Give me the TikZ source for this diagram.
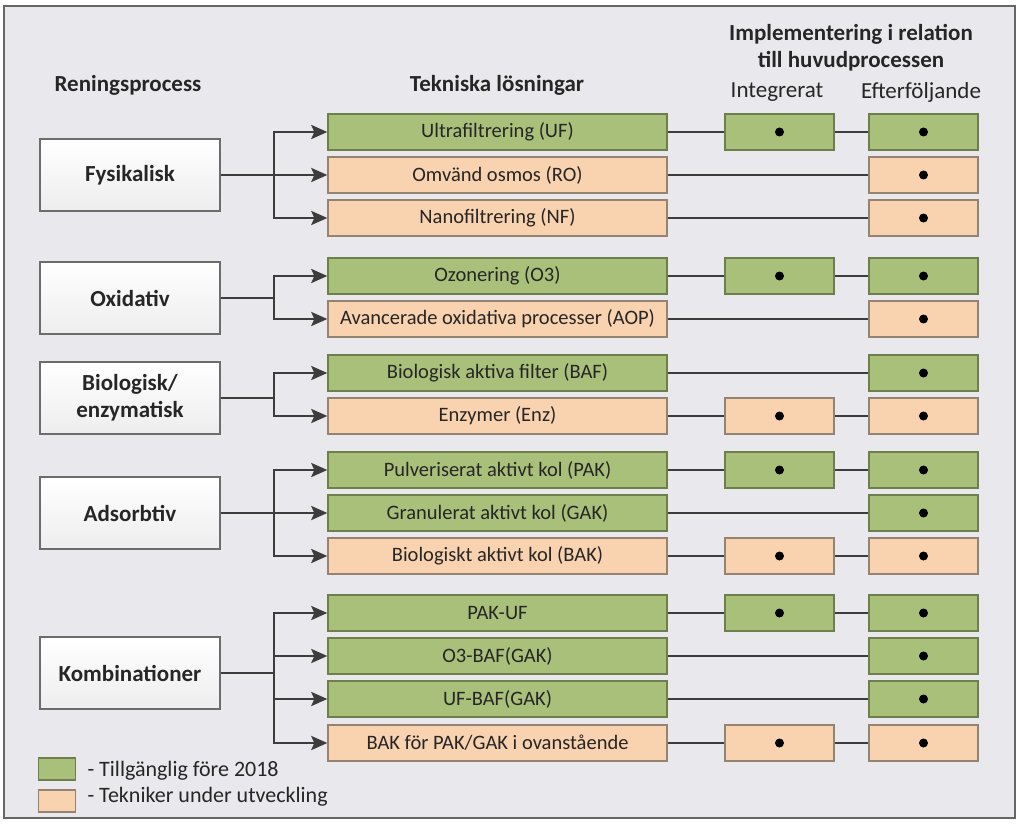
\documentclass[tikz,border=0pt]{standalone}
\usepackage{fontspec}
\setmainfont{Carlito}
\usetikzlibrary{arrows.meta}
\definecolor{grnfill}{HTML}{A9C07A}
\definecolor{grnline}{HTML}{6E7F4B}
\definecolor{orgfill}{HTML}{F9D2B0}
\definecolor{orgline}{HTML}{958372}
\definecolor{panel}{HTML}{E9E9ED}
\definecolor{wire}{HTML}{3C3C3C}
\definecolor{txt}{HTML}{262626}
\tikzset{
  grn/.style={fill=grnfill,draw=grnline},
  org/.style={fill=orgfill,draw=orgline},
  techbox/.style={line width=1.4pt,minimum width=339pt,minimum height=36pt,inner sep=0pt,font=\fontsize{20.5}{24}\selectfont,text=txt},
  implbox/.style={line width=1.4pt,minimum width=109pt,minimum height=36pt,inner sep=0pt},
  procbox/.style={draw=gray!85!black,line width=1.4pt,top color=white,bottom color=white!93!black,minimum width=180pt,minimum height=72pt,align=center,font=\bfseries\fontsize{23}{27}\selectfont,text=txt},
  hdr/.style={font=\bfseries\fontsize{23}{27}\selectfont,text=txt,align=center},
  subhdr/.style={font=\fontsize{23}{27}\selectfont,text=txt},
  wireline/.style={draw=wire,line width=2.5pt},
  thinwire/.style={draw=wire,line width=2pt},
  arr/.style={wireline,-{Stealth[length=16pt,width=14pt,inset=3pt]}},
  dot/.style={circle,fill=black,inner sep=0pt,minimum size=9pt},
  legtxt/.style={font=\fontsize{22}{26}\selectfont,text=txt,anchor=west}
}
\begin{document}
\begin{tikzpicture}[x=1pt,y=-1pt]
\useasboundingbox (0,0) rectangle (1024,829);
\fill[white] (0,0) rectangle (1024,829);
\draw[fill=panel,draw=gray!80!black,line width=1.2pt] (4,6) rectangle (1015,818);

% headers
\node[hdr] (h1) at (128,85) {Reningsprocess};
\node[hdr] (h2) at (497,85) {Tekniska lösningar};
\node[hdr] (h3) at (851,48) {Implementering i relation\\till huvudprocessen};
\node[subhdr] (h4) at (777,92) {Integrerat};
\node[subhdr] (h5) at (921,92) {Efterföljande};

% process boxes
\node[procbox] (fys) at (130,175) {Fysikalisk};
\node[procbox] (oxi) at (130,298) {Oxidativ};
\node[procbox] (bio) at (130,398) {Biologisk/\\enzymatisk};
\node[procbox] (ads) at (130,513) {Adsorbtiv};
\node[procbox] (kom) at (130,673) {Kombinationer};

\coordinate (busx) at (274,0);

% technique rows
\foreach \id/\y/\c/\t/\i in {
  uf/132/grn/{Ultrafiltrering (UF)}/1,
  ro/175/org/{Omvänd osmos (RO)}/0,
  nf/218/org/{Nanofiltrering (NF)}/0,
  oz/276/grn/{Ozonering (O3)}/1,
  aop/319/org/{Avancerade oxidativa processer (AOP)}/0,
  baf/373/grn/{Biologisk aktiva filter (BAF)}/0,
  enz/416/org/{Enzymer (Enz)}/1,
  pak/470/grn/{Pulveriserat aktivt kol (PAK)}/1,
  gak/513/grn/{Granulerat aktivt kol (GAK)}/0,
  bak/556/org/{Biologiskt aktivt kol (BAK)}/1,
  pakuf/613/grn/{PAK-UF}/1,
  obaf/656/grn/{O3-BAF(GAK)}/0,
  ufbaf/699/grn/{UF-BAF(GAK)}/0,
  bakf/743/org/{BAK för PAK/GAK i ovanstående}/1}{
  \node[techbox,\c] (\id) at (497.5,\y) {\t};
  \node[implbox,\c] (\id e) at (923.5,\y) {};
  \node[dot] (\id ed) at (\id e.center) {};
  \ifnum\i=1
    \node[implbox,\c] (\id i) at (779.5,\y) {};
    \node[dot] (\id id) at (\id i.center) {};
    \draw[thinwire] (\id.east) -- (\id i.west);
    \draw[thinwire] (\id i.east) -- (\id e.west);
  \else
    \draw[thinwire] (\id.east) -- (\id e.west);
  \fi
}

% connectors from process boxes
\draw[wireline] (fys.east) -- (fys.east -| busx);
\draw[arr] (fys.east -| busx) |- (uf.west);
\draw[arr] (fys.east -| busx) -- (ro.west);
\draw[arr] (fys.east -| busx) |- (nf.west);

\draw[wireline] (oxi.east) -- (oxi.east -| busx);
\draw[arr] (oxi.east -| busx) |- (oz.west);
\draw[arr] (oxi.east -| busx) |- (aop.west);

\draw[wireline] (bio.east) -- (bio.east -| busx);
\draw[arr] (bio.east -| busx) |- (baf.west);
\draw[arr] (bio.east -| busx) |- (enz.west);

\draw[wireline] (ads.east) -- (ads.east -| busx);
\draw[arr] (ads.east -| busx) |- (pak.west);
\draw[arr] (ads.east -| busx) -- (gak.west);
\draw[arr] (ads.east -| busx) |- (bak.west);

\draw[wireline] (kom.east) -- (kom.east -| busx);
\draw[arr] (kom.east -| busx) |- (pakuf.west);
\draw[arr] (kom.east -| busx) |- (obaf.west);
\draw[arr] (kom.east -| busx) |- (ufbaf.west);
\draw[arr] (kom.east -| busx) |- (bakf.west);

% legend
\node[grn,line width=1.3pt,minimum width=37pt,minimum height=22pt,inner sep=0pt] (lg) at (57,769) {};
\node[org,line width=1.3pt,minimum width=37pt,minimum height=22pt,inner sep=0pt] (lo) at (57,801) {};
\node[legtxt] (lgt) at (84,771) {- Tillgänglig före 2018};
\node[legtxt] (lot) at (84,797) {- Tekniker under utveckling};
\end{tikzpicture}
\end{document}
